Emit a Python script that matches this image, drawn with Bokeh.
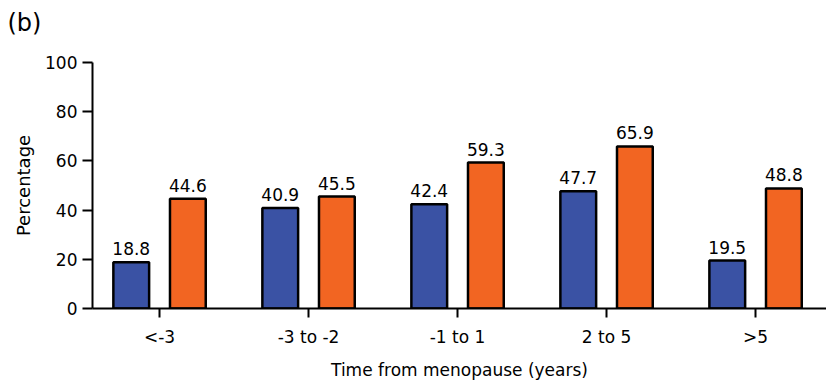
from bokeh.plotting import figure
from bokeh.models import ColumnDataSource, LabelSet, FixedTicker, Range1d, Title
from bokeh.core.properties import value
from bokeh.embed import file_html
from bokeh.resources import INLINE

categories = ["<-3", "-3 to -2", "-1 to 1", "2 to 5", ">5"]
series_blue = [18.8, 40.9, 42.4, 47.7, 19.5]
series_orange = [44.6, 45.5, 59.3, 65.9, 48.8]
y_ticks = [0, 20, 40, 60, 80, 100]

FONT = "DejaVu Sans"
BLUE = "#3a52a4"
ORANGE = "#f26522"

idx = list(range(len(categories)))
off = 0.19
src_b = ColumnDataSource(dict(x=[i - off for i in idx], top=series_blue,
                              lab=[f"{v:.1f}" for v in series_blue]))
src_o = ColumnDataSource(dict(x=[i + off for i in idx], top=series_orange,
                              lab=[f"{v:.1f}" for v in series_orange]))

p = figure(width=826, height=382, output_backend="svg", toolbar_location=None,
           x_range=Range1d(-0.45, 4.476), y_range=Range1d(0, 100),
           min_border_left=92, min_border_right=0, min_border_top=62, min_border_bottom=74)
p.outline_line_color = None
p.xgrid.grid_line_color = None
p.ygrid.grid_line_color = None

p.vbar(x="x", top="top", bottom=0, width=0.24, source=src_b,
       fill_color=BLUE, line_color="black", line_width=2.5)
p.vbar(x="x", top="top", bottom=0, width=0.24, source=src_o,
       fill_color=ORANGE, line_color="black", line_width=2.5)

for s in (src_b, src_o):
    p.add_layout(LabelSet(x="x", y="top", text="lab", source=s, y_offset=7,
                          text_align="center", text_baseline="bottom",
                          text_font=value(FONT), text_font_size=value("17px"),
                          text_color="black"))

# x axis
p.xaxis.ticker = FixedTicker(ticks=idx)
p.xaxis.major_label_overrides = {i: c for i, c in zip(idx, categories)}
p.xaxis.minor_tick_line_color = None
p.xaxis.major_tick_in = 0
p.xaxis.major_tick_out = 9
p.xaxis.major_tick_line_width = 2
p.xaxis.axis_line_width = 2
p.xaxis.major_label_standoff = 9
p.xaxis.major_label_text_font = FONT
p.xaxis.major_label_text_font_size = "17px"
p.xaxis.major_label_text_color = "black"
p.xaxis.axis_label = "Time from menopause (years)"
p.xaxis.axis_label_text_font = FONT
p.xaxis.axis_label_text_font_size = "17px"
p.xaxis.axis_label_text_font_style = "normal"
p.xaxis.axis_label_text_color = "black"
p.xaxis.axis_label_standoff = 10

# y axis
p.yaxis.ticker = FixedTicker(ticks=y_ticks)
p.yaxis.minor_tick_line_color = None
p.yaxis.major_tick_in = 0
p.yaxis.major_tick_out = 10
p.yaxis.major_tick_line_width = 2
p.yaxis.axis_line_width = 2
p.yaxis.major_label_standoff = 5
p.yaxis.major_label_text_font = FONT
p.yaxis.major_label_text_font_size = "17px"
p.yaxis.major_label_text_color = "black"
p.yaxis.axis_label = "Percentage"
p.yaxis.axis_label_text_font = FONT
p.yaxis.axis_label_text_font_size = "18px"
p.yaxis.axis_label_text_font_style = "normal"
p.yaxis.axis_label_text_color = "black"
p.yaxis.axis_label_standoff = 8

p.add_layout(Title(text="(b)\n ", align="left", offset=-85, standoff=0,
                   text_font=FONT, text_font_size="24px", text_font_style="normal",
                   text_line_height=0.9, text_color="black"), "above")

open("out.html", "w").write(file_html(p, INLINE))
